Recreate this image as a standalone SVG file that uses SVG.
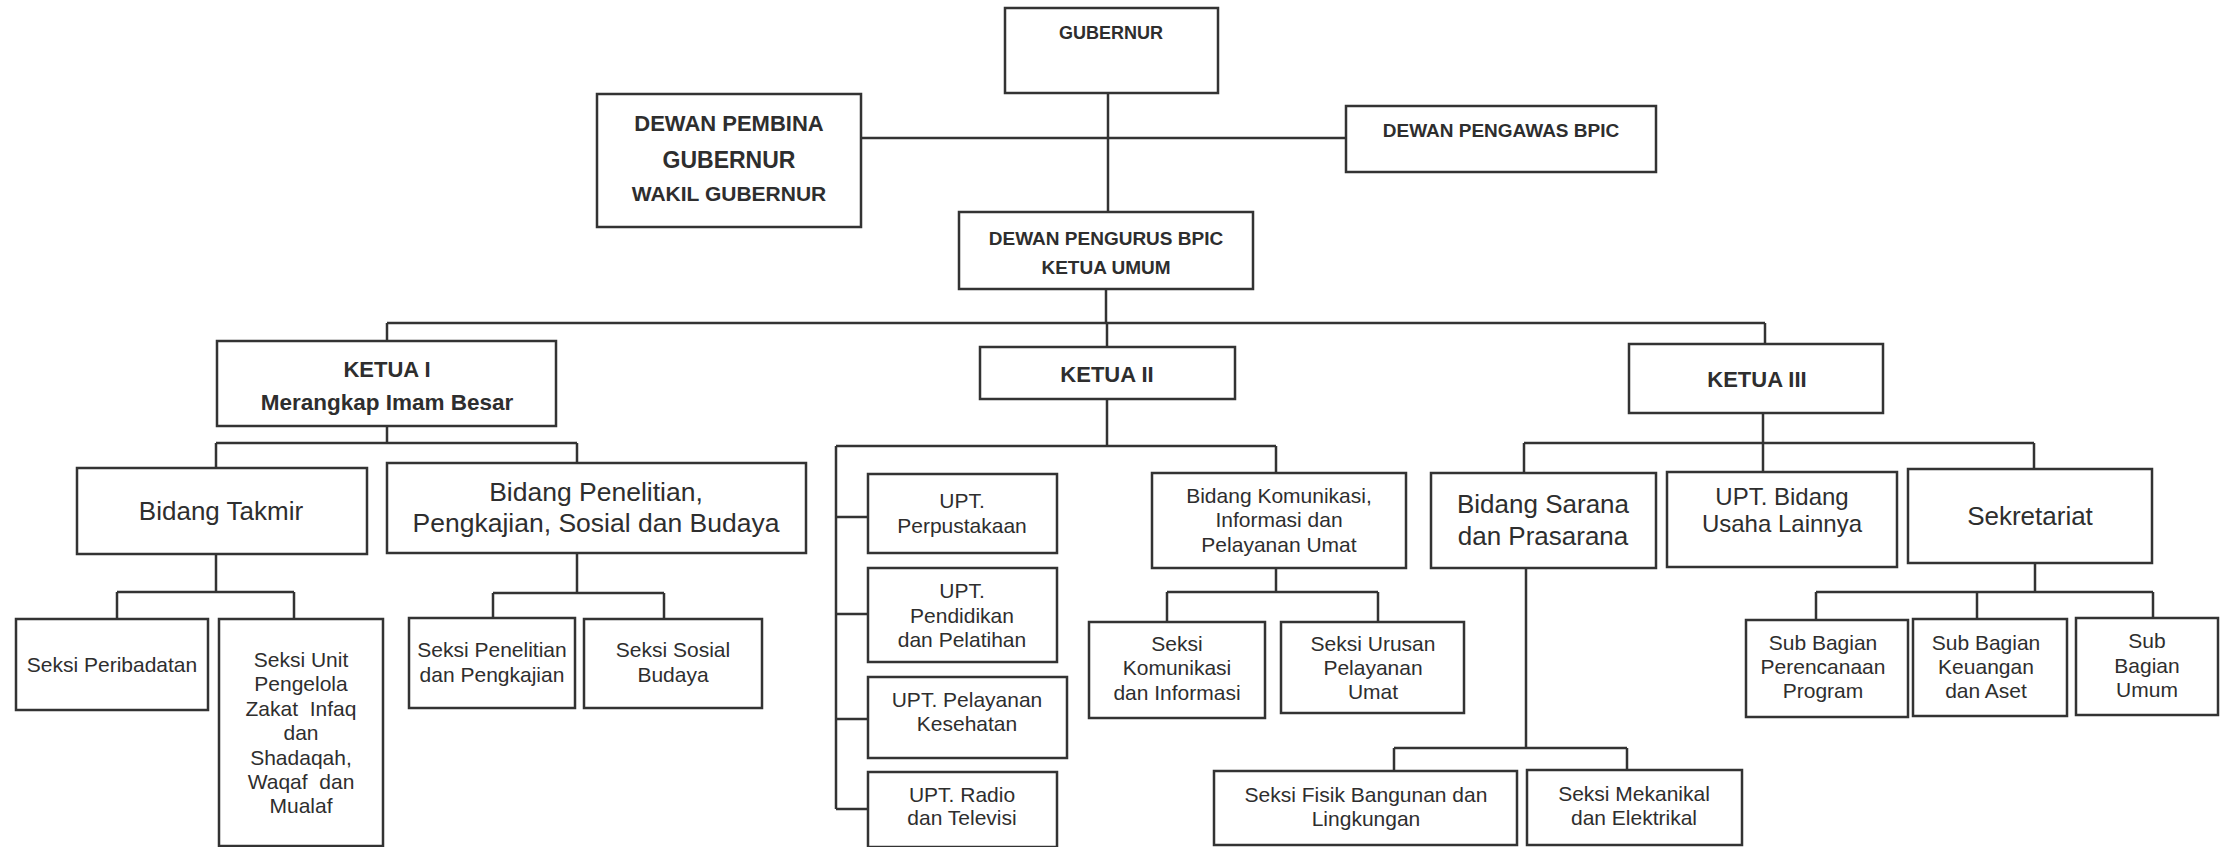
<svg xmlns="http://www.w3.org/2000/svg" width="2220" height="847" viewBox="0 0 2220 847">
<style>
  rect { fill: #ffffff; stroke: #333333; stroke-width: 2.5; }
  .c path { fill: none; stroke: #333333; stroke-width: 2.5; }
  text { font-family: "Liberation Sans", Arial, sans-serif; fill: #2e2e2e; text-anchor: middle; }
  .b { font-weight: bold; }
  .s { font-size: 21px; }
  .m { font-size: 26px; }
  .pre { white-space: pre; }
</style>
<rect x="0" y="0" width="2220" height="847" style="fill:#ffffff;stroke:none"/>
<g class="c" id="connectors">
  <path d="M1108 93 V212"/>
  <path d="M861 138 H1346"/>
  <path d="M1106 289 V323"/>
  <path d="M387 323 H1765"/>
  <path d="M387 323 V341"/>
  <path d="M1107 323 V347"/>
  <path d="M1765 323 V344"/>
  <path d="M387 426 V443 M216 443 H577 M216 443 V468 M577 443 V463"/>
  <path d="M216 554 V592 M117 592 H294 M117 592 V619 M294 592 V619"/>
  <path d="M577 553 V593 M493 593 H664 M493 593 V618 M664 593 V619"/>
  <path d="M1107 399 V446 M836 446 H1276 M836 446 V809 M1276 446 V473"/>
  <path d="M836 517 H868 M836 614 H868 M836 719 H868 M836 809 H868"/>
  <path d="M1276 568 V592 M1167 592 H1378 M1167 592 V622 M1378 592 V622"/>
  <path d="M1763 413 V472 M1524 443 H2034 M1524 443 V473 M2034 443 V469"/>
  <path d="M1526 568 V748 M1394 748 H1627 M1394 748 V771 M1627 748 V770"/>
  <path d="M2035 563 V592 M1816 592 H2153 M1816 592 V620 M1977 592 V619 M2153 592 V618"/>
</g>
<g id="gubernur">
  <rect x="1005" y="8" width="213" height="85"/>
  <text class="b" x="1111" y="39" font-size="18">GUBERNUR</text>
</g>
<g id="dewan-pembina">
  <rect x="597" y="94" width="264" height="133"/>
  <text class="b" x="729" y="131" font-size="22">DEWAN PEMBINA</text>
  <text class="b" x="729" y="168" font-size="23">GUBERNUR</text>
  <text class="b" x="729" y="201" font-size="21">WAKIL GUBERNUR</text>
</g>
<g id="dewan-pengawas">
  <rect x="1346" y="106" width="310" height="66"/>
  <text class="b" x="1501" y="137" font-size="19">DEWAN PENGAWAS BPIC</text>
</g>
<g id="dewan-pengurus">
  <rect x="959" y="212" width="294" height="77"/>
  <text class="b" x="1106" y="245" font-size="19">DEWAN PENGURUS BPIC</text>
  <text class="b" x="1106" y="274" font-size="19">KETUA UMUM</text>
</g>
<g id="ketua-1">
  <rect x="217" y="341" width="339" height="85"/>
  <text class="b" x="387" y="377" font-size="22">KETUA I</text>
  <text class="b" x="387" y="410" font-size="22.5">Merangkap Imam Besar</text>
</g>
<g id="ketua-2">
  <rect x="980" y="347" width="255" height="52"/>
  <text class="b" x="1107" y="382" font-size="22">KETUA II</text>
</g>
<g id="ketua-3">
  <rect x="1629" y="344" width="254" height="69"/>
  <text class="b" x="1757" y="387" font-size="22">KETUA III</text>
</g>
<g id="bidang-takmir">
  <rect x="77" y="468" width="290" height="86"/>
  <text class="m" x="221" y="520">Bidang Takmir</text>
</g>
<g id="bidang-penelitian">
  <rect x="387" y="463" width="419" height="90"/>
  <text x="596" y="501" font-size="26.5">Bidang Penelitian,</text>
  <text x="596" y="532" font-size="26.5">Pengkajian, Sosial dan Budaya</text>
</g>
<g id="upt-perpustakaan">
  <rect x="868" y="474" width="189" height="79"/>
  <text class="s" x="962" y="508">UPT.</text>
  <text class="s" x="962" y="533">Perpustakaan</text>
</g>
<g id="upt-pendidikan">
  <rect x="868" y="568" width="189" height="94"/>
  <text class="s" x="962" y="598">UPT.</text>
  <text class="s" x="962" y="623">Pendidikan</text>
  <text class="s" x="962" y="647">dan Pelatihan</text>
</g>
<g id="upt-kesehatan">
  <rect x="868" y="677" width="199" height="81"/>
  <text class="s" x="967" y="707">UPT. Pelayanan</text>
  <text class="s" x="967" y="731">Kesehatan</text>
</g>
<g id="upt-radio">
  <rect x="868" y="772" width="189" height="75"/>
  <text class="s" x="962" y="802">UPT. Radio</text>
  <text class="s" x="962" y="825">dan Televisi</text>
</g>
<g id="bidang-komunikasi">
  <rect x="1152" y="473" width="254" height="95"/>
  <text class="s" x="1279" y="503">Bidang Komunikasi,</text>
  <text class="s" x="1279" y="527">Informasi dan</text>
  <text class="s" x="1279" y="552">Pelayanan Umat</text>
</g>
<g id="bidang-sarana">
  <rect x="1431" y="473" width="225" height="95"/>
  <text class="m" x="1543" y="513">Bidang Sarana</text>
  <text class="m" x="1543" y="545">dan Prasarana</text>
</g>
<g id="upt-bidang-usaha">
  <rect x="1667" y="472" width="230" height="95"/>
  <text x="1782" y="505" font-size="24">UPT. Bidang</text>
  <text x="1782" y="532" font-size="24">Usaha Lainnya</text>
</g>
<g id="sekretariat">
  <rect x="1908" y="469" width="244" height="94"/>
  <text class="m" x="2030" y="525">Sekretariat</text>
</g>
<g id="seksi-peribadatan">
  <rect x="16" y="619" width="192" height="91"/>
  <text class="s" x="112" y="672">Seksi Peribadatan</text>
</g>
<g id="seksi-zakat">
  <rect x="219" y="619" width="164" height="227"/>
  <text class="s" x="301" y="667">Seksi Unit</text>
  <text class="s" x="301" y="691">Pengelola</text>
  <text class="s pre" x="301" y="716">Zakat  Infaq</text>
  <text class="s" x="301" y="740">dan</text>
  <text class="s" x="301" y="765">Shadaqah,</text>
  <text class="s pre" x="301" y="789">Waqaf  dan</text>
  <text class="s" x="301" y="813">Mualaf</text>
</g>
<g id="seksi-penelitian">
  <rect x="409" y="618" width="166" height="90"/>
  <text class="s" x="492" y="657">Seksi Penelitian</text>
  <text class="s" x="492" y="682">dan Pengkajian</text>
</g>
<g id="seksi-sosial">
  <rect x="584" y="619" width="178" height="89"/>
  <text class="s" x="673" y="657">Seksi Sosial</text>
  <text class="s" x="673" y="682">Budaya</text>
</g>
<g id="seksi-komunikasi">
  <rect x="1089" y="622" width="176" height="96"/>
  <text class="s" x="1177" y="651">Seksi</text>
  <text class="s" x="1177" y="675">Komunikasi</text>
  <text class="s" x="1177" y="700">dan Informasi</text>
</g>
<g id="seksi-urusan">
  <rect x="1281" y="622" width="183" height="91"/>
  <text class="s" x="1373" y="651">Seksi Urusan</text>
  <text class="s" x="1373" y="675">Pelayanan</text>
  <text class="s" x="1373" y="699">Umat</text>
</g>
<g id="seksi-fisik">
  <rect x="1214" y="771" width="303" height="74"/>
  <text class="s" x="1366" y="802">Seksi Fisik Bangunan dan</text>
  <text class="s" x="1366" y="826">Lingkungan</text>
</g>
<g id="seksi-mekanikal">
  <rect x="1527" y="770" width="215" height="75"/>
  <text class="s" x="1634" y="801">Seksi Mekanikal</text>
  <text class="s" x="1634" y="825">dan Elektrikal</text>
</g>
<g id="sub-perencanaan">
  <rect x="1746" y="620" width="162" height="97"/>
  <text class="s" x="1823" y="650">Sub Bagian</text>
  <text class="s" x="1823" y="674">Perencanaan</text>
  <text class="s" x="1823" y="698">Program</text>
</g>
<g id="sub-keuangan">
  <rect x="1913" y="619" width="154" height="97"/>
  <text class="s" x="1986" y="650">Sub Bagian</text>
  <text class="s" x="1986" y="674">Keuangan</text>
  <text class="s" x="1986" y="698">dan Aset</text>
</g>
<g id="sub-umum">
  <rect x="2076" y="618" width="142" height="97"/>
  <text class="s" x="2147" y="648">Sub</text>
  <text class="s" x="2147" y="673">Bagian</text>
  <text class="s" x="2147" y="697">Umum</text>
</g>
</svg>
